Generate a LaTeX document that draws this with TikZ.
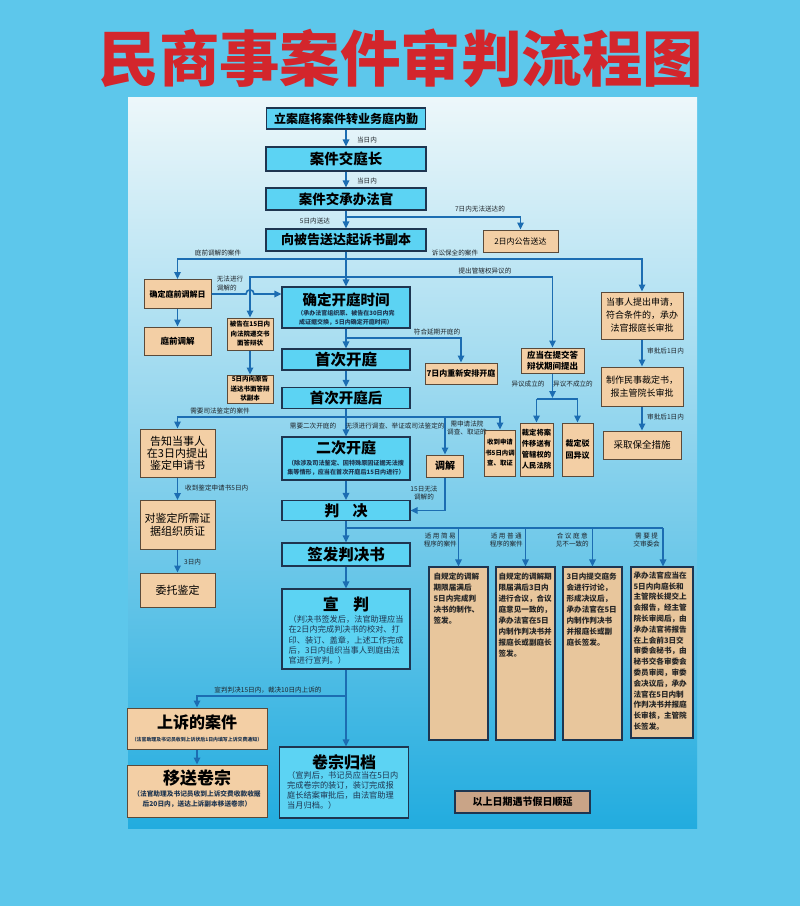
\documentclass[tikz,border=0pt]{standalone}
\usepackage{fontspec}
\setmainfont{Noto Sans CJK SC}
\usetikzlibrary{arrows.meta,calc}
\definecolor{bgout}{HTML}{5DC7EB}
\definecolor{ptop}{HTML}{EDF7FA}
\definecolor{pmid}{HTML}{A4DDF0}
\definecolor{pbot}{HTML}{22ACDF}
\definecolor{cyanf}{HTML}{5CD3F3}
\definecolor{bordc}{HTML}{1E3550}
\definecolor{tanf}{HTML}{F3CFA5}
\definecolor{tanb}{HTML}{5A4A3A}
\definecolor{tallf}{HTML}{E8C69C}
\definecolor{ftf}{HTML}{C9A487}
\definecolor{linec}{HTML}{1C6DB2}
\definecolor{lblc}{HTML}{1E2329}
\definecolor{titlered}{HTML}{D3262C}
\newcommand\fsz[2]{\fontsize{#1}{#2}\selectfont}
\tikzset{
  mainb/.style={draw=bordc, line width=1.1pt, fill=cyanf, inner sep=0pt, align=center, font=\bfseries},
  tanbox/.style={draw=tanb, line width=1pt, fill=tanf, inner sep=0pt, align=center, font=\bfseries},
  tallbox/.style={draw=bordc, line width=1.2pt, fill=tallf, inner sep=0pt},
  talltxt/.style={anchor=north west, inner sep=0pt, align=left, font=\bfseries\fsz{7.6}{11}, text=black!85},
  subt/.style={inner sep=0pt, align=center, font=\bfseries\fsz{6}{9.5}, text=bordc},
  lbl/.style={font=\fsz{6.6}{8.5}, text=lblc, inner sep=0pt, align=center},
  arr/.style={draw=linec, line width=1.6pt, -{Triangle[length=7pt,width=6.5pt]}},
  ln/.style={draw=linec, line width=1.6pt}
}
\begin{document}
\begin{tikzpicture}[x=1pt,y=-1pt]
\useasboundingbox (0,0) rectangle (800,906);
\fill[bgout] (0,0) rectangle (800,906);
\shade[top color=ptop, middle color=pmid, bottom color=pbot] (128,97) rectangle (697,828);
\node[text=titlered, font=\bfseries\fsz{60.5}{62}, inner sep=0pt] (title) at (401,58) {民商事案件审判流程图};

% main column
\node[mainb, minimum width=159, minimum height=21, font=\bfseries\fsz{12}{14}] (n1) at (346,118.5) {立案庭将案件转业务庭内勤};
\node[mainb, minimum width=160, minimum height=24, font=\bfseries\fsz{14.5}{16}] (n2) at (346,159) {案件交庭长};
\node[mainb, minimum width=160, minimum height=22, font=\bfseries\fsz{13.5}{15}] (n3) at (346,199) {案件交承办法官};
\node[mainb, minimum width=160, minimum height=22, font=\bfseries\fsz{13}{15}] (n4) at (346,240) {向被告送达起诉书副本};
\node[tanbox, minimum width=75, minimum height=22, font=\fsz{8}{10}] (gg) at (520.5,241) {2日内公告送达};

\node[mainb, minimum width=128, minimum height=41] (kt) at (346,307.5) {};
\node[inner sep=0pt, font=\bfseries\fsz{14.5}{16}] (ktt) at (346,299.5) {确定开庭时间};
\node[subt] (kts) at (346,318) {（承办法官组织原、被告在30日内完\\成证据交换，5日内确定开庭时间）};
\node[mainb, minimum width=128, minimum height=21, font=\bfseries\fsz{15.5}{17}] (sc) at (346,359.5) {首次开庭};
\node[mainb, minimum width=128, minimum height=21, font=\bfseries\fsz{14.5}{16}] (sch) at (346,398) {首次开庭后};
\node[mainb, minimum width=128, minimum height=43] (ec) at (346,458.5) {};
\node[inner sep=0pt, font=\bfseries\fsz{15}{17}] (ect) at (346,448) {二次开庭};
\node[subt, font=\bfseries\fsz{6.1}{9.5}] (ecs) at (346,468) {（除涉及司法鉴定、因特殊原因证据无法搜\\集等情形，应当在首次开庭后15日内进行）};
\node[mainb, minimum width=128, minimum height=20, font=\bfseries\fsz{15}{17}] (pj) at (346,510.5) {判\hspace{0.9em}决};
\node[mainb, minimum width=128, minimum height=23, font=\bfseries\fsz{15.5}{17}] (qf) at (346,554.5) {签发判决书};
\node[mainb, minimum width=128, minimum height=80] (xp) at (346,629) {};
\node[inner sep=0pt, font=\bfseries\fsz{16}{18}] (xpt) at (346,604) {宣\hspace{0.9em}判};
\node[subt, anchor=north west, align=left, font=\fsz{8.2}{10.4}] (xps) at (288.5,615) {（判决书签发后，法官助理应当\\在2日内完成判决书的校对、打\\印、装订、盖章，上述工作完成\\后，3日内组织当事人到庭由法\\官进行宣判。）};
\node[mainb, minimum width=129, minimum height=71] (gd) at (344,782.5) {};
\node[inner sep=0pt, font=\bfseries\fsz{16}{18}] (gdt) at (344,762) {卷宗归档};
\node[subt, anchor=north west, align=left, font=\fsz{8.2}{10}] (gds) at (287,771) {（宣判后，书记员应当在5日内\\完成卷宗的装订，装订完成报\\庭长结案审批后，由法官助理\\当月归档。）};

% left column
\node[tanbox, minimum width=67, minimum height=29, font=\bfseries\fsz{8}{10}] (tq) at (177.5,294) {确定庭前调解日};
\node[tanbox, minimum width=67, minimum height=28, font=\bfseries\fsz{8.5}{10}] (tt) at (177.5,341) {庭前调解};
\node[tanbox, minimum width=46, minimum height=32, font=\bfseries\fsz{6.5}{9.5}] (bg) at (250,334) {被告在15日内\\向法院递交书\\面答辩状};
\node[tanbox, minimum width=46, minimum height=28, font=\bfseries\fsz{6.5}{9.5}] (wr) at (250,389) {5日内向原告\\送达书面答辩\\状副本};
\node[tanbox, minimum width=75, minimum height=48, font=\fsz{11}{12}] (gz) at (177.5,453) {告知当事人\\在3日内提出\\鉴定申请书};
\node[tanbox, minimum width=75, minimum height=49, font=\fsz{11}{13.5}] (dj) at (177.5,525) {对鉴定所需证\\据组织质证};
\node[tanbox, minimum width=75, minimum height=34, font=\fsz{11}{13}] (wt) at (177.5,590) {委托鉴定};
\node[tanbox, minimum width=140, minimum height=41] (ss) at (197,728.5) {};
\node[inner sep=0pt, font=\bfseries\fsz{16}{18}] (sst) at (197,722) {上诉的案件};
\node[subt, font=\bfseries\fsz{4.9}{6}] (sss) at (197,739.5) {（法官助理及书记员收到上诉状后1日内填写上诉交费通知）};
\node[tanbox, minimum width=140, minimum height=52] (ys) at (197,791) {};
\node[inner sep=0pt, font=\bfseries\fsz{17}{19}] (yst) at (197,778) {移送卷宗};
\node[subt, font=\bfseries\fsz{6.7}{10}] (yss) at (197,799.5) {（法官助理及书记员收到上诉交费收款收据\\后20日内，送达上诉副本移送卷宗）};

% right side
\node[tanbox, minimum width=72, minimum height=21, font=\bfseries\fsz{8}{10}] (cq) at (461,373.5) {7日内重新安排开庭};
\node[tanbox, minimum width=63, minimum height=25, font=\bfseries\fsz{8.5}{11}] (yd) at (552.5,360.5) {应当在提交答\\辩状期间提出};
\node[tanbox, minimum width=33, minimum height=53, font=\bfseries\fsz{7.3}{11}] (cy) at (536.5,449.5) {裁定将案\\件移送有\\管辖权的\\人民法院};
\node[tanbox, minimum width=31, minimum height=53, font=\bfseries\fsz{8}{12}] (cb) at (577.5,449.5) {裁定驳\\回异议};
\node[tanbox, minimum width=82, minimum height=47, font=\fsz{9}{13}] (dsr) at (642,315.5) {当事人提出申请，\\符合条件的，承办\\法官报庭长审批};
\node[tanbox, minimum width=82, minimum height=39, font=\fsz{9}{13}] (zz) at (642,386.5) {制作民事裁定书，\\报主管院长审批};
\node[tanbox, minimum width=78, minimum height=28, font=\fsz{9.5}{11}] (cbq) at (642,445) {采取保全措施};
\node[tanbox, minimum width=37, minimum height=22, font=\bfseries\fsz{10}{12}] (tj) at (445,466) {调解};
\node[tanbox, minimum width=31, minimum height=46, font=\bfseries\fsz{6.4}{10.5}] (sq) at (500,453) {收到申请\\书5日内调\\查、取证};

% tall boxes
\node[tallbox, minimum width=59, minimum height=173] (b1) at (458.5,653.5) {};
\node[tallbox, minimum width=59, minimum height=173] (b2) at (525.5,653.5) {};
\node[tallbox, minimum width=59, minimum height=173] (b3) at (592.5,653.5) {};
\node[tallbox, minimum width=62, minimum height=171] (b4) at (662,652.5) {};
\node[talltxt] (t1) at ([xshift=5pt,yshift=-6pt]b1.north west) {自规定的调解\\期限届满后\\5日内完成判\\决书的制作、\\签发。};
\node[talltxt] (t2) at ([xshift=3pt,yshift=-6pt]b2.north west) {自规定的调解期\\限届满后3日内\\进行合议，合议\\庭意见一致的，\\承办法官在5日\\内制作判决书并\\报庭长或副庭长\\签发。};
\node[talltxt] (t3) at ([xshift=4pt,yshift=-6pt]b3.north west) {3日内提交庭务\\会进行讨论，\\形成决议后，\\承办法官在5日\\内制作判决书\\并报庭长或副\\庭长签发。};
\node[talltxt, font=\bfseries\fsz{7.6}{10.8}] (t4) at ([xshift=3pt,yshift=-5pt]b4.north west) {承办法官应当在\\5日内向庭长和\\主管院长提交上\\会报告，经主管\\院长审阅后，由\\承办法官将报告\\在上会前3日交\\审委会秘书，由\\秘书交各审委会\\委员审阅，审委\\会决议后，承办\\法官在5日内制\\作判决书并报庭\\长审核，主管院\\长签发。};
\node[draw=bordc, line width=1.3pt, fill=ftf, minimum width=135, minimum height=22, inner sep=0pt, font=\bfseries\fsz{10}{12}] (ft) at (522.5,802) {以上日期遇节假日顺延};

% connectors top
\draw[arr] (n1) -- (n2);
\node[lbl] at (367,140) {当日内};
\draw[arr] (n2) -- (n3);
\node[lbl] at (367,181) {当日内};
\draw[arr] (n3) -- (n4);
\node[lbl] at (315,221) {5日内送达};
\coordinate (b34) at (346,217);
\draw[arr] (b34) -| (gg.north);
\node[lbl] at (480,209) {7日内无法送达的};
\draw[arr] (n4) -- (kt);
\coordinate (s1) at (346,259);
\draw[arr] (s1) -| (tq.north);
\draw[arr] (s1) -| (dsr.north);
\node[lbl] at (218,252.5) {庭前调解的案件};
\node[lbl] at (455,252.5) {诉讼保全的案件};
\coordinate (s2) at (346,277);
\draw[arr] (s2) -| (yd.north);
\draw[arr] (s2) -| (bg.north);
\node[lbl] at (485,271) {提出管辖权异议的};
\coordinate (hp1) at (246,294);
\coordinate (hp2) at (254,294);
\draw[arr] (tq.east) -- (hp1) .. controls (246,288.5) and (254,288.5) .. (hp2) -- (kt.west |- tq.east);
\node[lbl, align=left] at (230,283.5) {无法进行\\调解的};
\draw[arr] (tq) -- (tt);
\draw[arr] (bg) -- (wr);

\draw[arr] (kt) -- (sc);
\coordinate (s3) at (346,338);
\draw[arr] (s3) -| (cq.north);
\node[lbl] at (437,332) {符合延期开庭的};
\draw[arr] (sc) -- (sch);
\draw[arr] (sch) -- (ec);
\node[lbl] at (313,426) {需要二次开庭的};
\node[lbl] at (395,426) {无须进行调查、举证或司法鉴定的};
\coordinate (s4) at (346,417);
\draw[arr] (s4) -| (gz.north);
\node[lbl] at (220,411) {需要司法鉴定的案件};
\draw[arr] (s4) -| (sq.north);
\coordinate (s5) at (445,417);
\draw[arr] (s5) -- (tj.north);
\node[lbl] at (467,428) {需申请法院\\调查、取证的};

% jurisdiction objection
\coordinate (h0) at (552.5,398);
\draw[arr] (yd.south) -- (h0);
\coordinate (h1) at (536.5,399);
\coordinate (h2) at (577.5,399);
\draw[ln] (h1) -- (h2);
\draw[arr] (h1) -- (cy.north);
\draw[arr] (h2) -- (cb.north);
\node[lbl] at (528,383.5) {异议成立的};
\node[lbl] at (573,383.5) {异议不成立的};

% preservation
\draw[arr] (dsr) -- (zz);
\node[lbl, anchor=west] at (647,351) {审批后1日内};
\draw[arr] (zz) -- (cbq);
\node[lbl, anchor=west] at (647,417) {审批后1日内};

% lower main
\draw[arr] (ec) -- (pj);
\draw[arr] (tj.south) |- (pj.east);
\node[lbl] at (424,493) {15日无法\\调解的};
\draw[arr] (pj) -- (qf);
\coordinate (s6) at (346,528);
\coordinate (d4) at (663,528);
\draw[ln] (s6) -- (d4);
\draw[arr] (b1.north |- s6) -- (b1.north);
\draw[arr] (b2.north |- s6) -- (b2.north);
\draw[arr] (b3.north |- s6) -- (b3.north);
\draw[arr] (d4) -- (d4 |- b4.north);
\node[lbl, anchor=east, align=center] at (457,540) {适 用 简 易\\程序的案件};
\node[lbl, anchor=east, align=center] at (523,540) {适 用 普 通\\程序的案件};
\node[lbl, anchor=east, align=center] at (589,540) {合 议 庭 意\\见不一致的};
\node[lbl, anchor=east, align=center] at (660,540) {需 要 提\\交审委会};
\draw[arr] (qf) -- (xp);
\draw[arr] (xp.south) -- (xp.south |- gd.north);
\coordinate (s7) at (346,696);
\draw[arr] (s7) -| (ss.north);
\node[lbl] at (268,690) {宣判判决15日内，裁决10日内上诉的};
\draw[arr] (ss) -- (ys);

% left lower
\draw[arr] (gz) -- (dj);
\node[lbl, anchor=west] at (185,487.5) {收到鉴定申请书5日内};
\draw[arr] (dj) -- (wt);
\node[lbl, anchor=west] at (184,562) {3日内};
\end{tikzpicture}
\end{document}
